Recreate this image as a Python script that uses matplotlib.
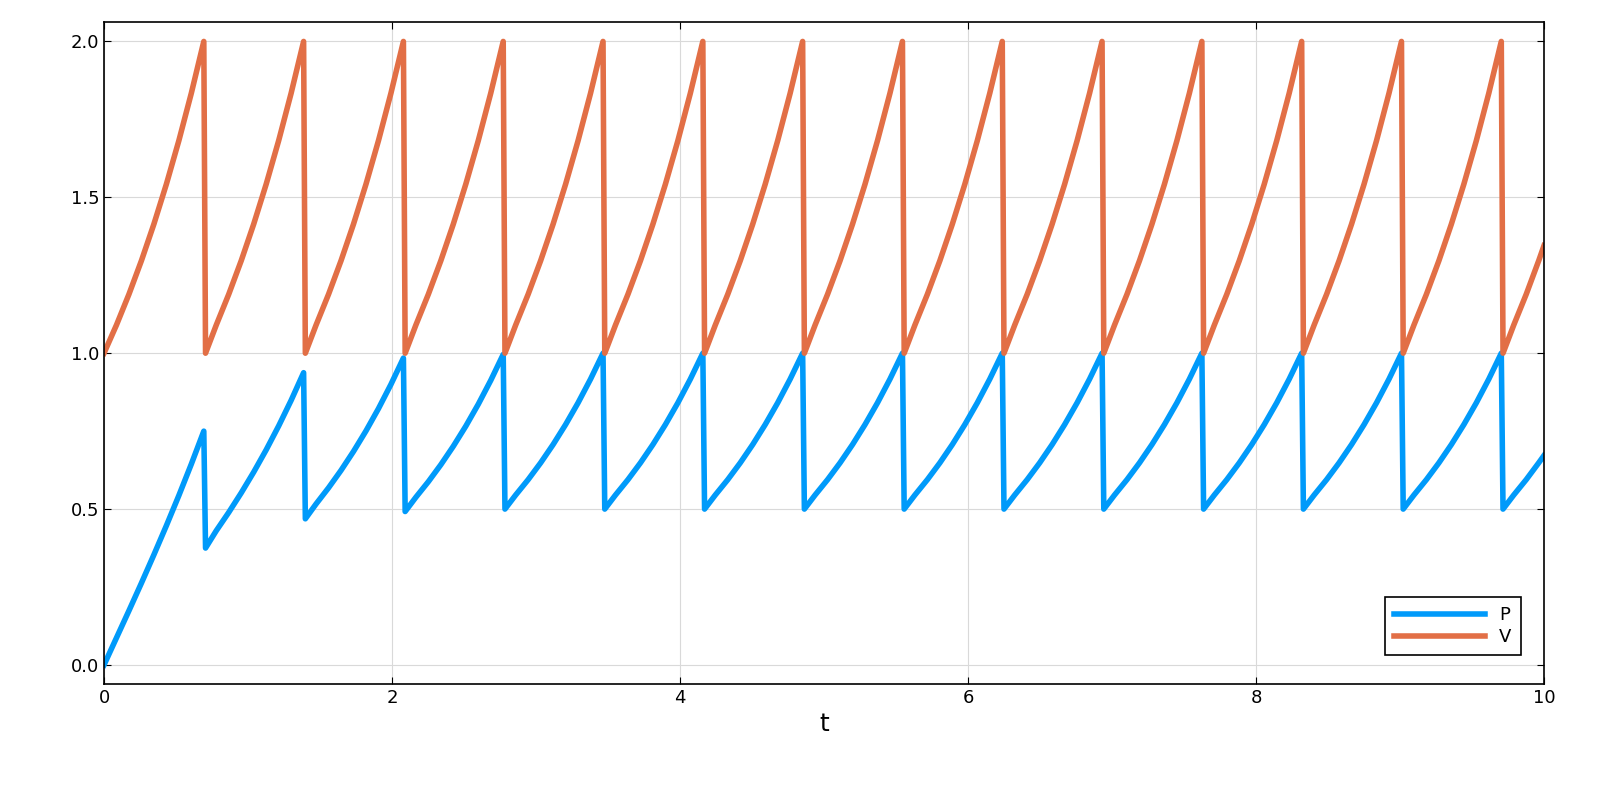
import numpy as np
import matplotlib.pyplot as plt

# values
period = 0.6931
cycle_frac = [0, 0.125, 0.25, 0.375, 0.5, 0.625, 0.75, 0.875, 1.0]
v_cycle = [1.0, 1.0905, 1.1892, 1.2968, 1.4142, 1.5422, 1.6818, 1.834, 2.0]
p_first_cycles = [
    [0.0, 0.0867, 0.1742, 0.2628, 0.3536, 0.4469, 0.5436, 0.6444, 0.75],
    [0.375, 0.4307, 0.4895, 0.552, 0.6187, 0.69, 0.7666, 0.8488, 0.9375],
    [0.4688, 0.5166, 0.5683, 0.6243, 0.685, 0.7508, 0.8223, 0.9, 0.9844],
    [0.4922, 0.5381, 0.588, 0.6424, 0.7016, 0.766, 0.8363, 0.9128, 0.9961],
]
p_steady = [0.5, 0.5453, 0.5946, 0.6484, 0.7071, 0.7711, 0.8409, 0.917, 1.0]
n_full = 14
jump_lag = 0.012  # the drop in the picture is slightly slanted
t_end, v_end, p_end = 10.0, 1.345, 0.672

t, V, P = [], [], []
for k in range(n_full + 1):
    pc = p_first_cycles[k] if k < len(p_first_cycles) else p_steady
    for f, v, p in zip(cycle_frac, v_cycle, pc):
        tt = (k + f) * period
        if k > 0 and f == 0:
            tt += jump_lag
        if tt > t_end:
            break
        t.append(tt); V.append(v); P.append(p)
t.append(t_end); V.append(v_end); P.append(p_end)

fig, ax = plt.subplots(figsize=(16, 8), dpi=100)
ax.plot(t, P, color='#009AFA', lw=4, label='P')
ax.plot(t, V, color='#E26F46', lw=4, label='V')

ax.set_xlim(0, 10)
ax.set_ylim(-0.061, 2.061)
ax.set_xticks([0, 2, 4, 6, 8, 10])
ax.set_yticks([0.0, 0.5, 1.0, 1.5, 2.0])
ax.set_yticklabels(['0.0', '0.5', '1.0', '1.5', '2.0'])
ax.grid(True, color='#d9d9d9', lw=0.8)
ax.tick_params(direction='in', labelsize=13, top=True, right=True, length=5)
ax.set_xlabel('t', fontsize=18)
for s in ax.spines.values():
    s.set_linewidth(1.2)
leg = ax.legend(loc='lower right', fontsize=13, fancybox=False, framealpha=1,
                edgecolor='black', borderpad=0.5, handlelength=5,
                labelspacing=0.2, bbox_to_anchor=(0.99, 0.03))
leg.get_frame().set_linewidth(1.2)

plt.subplots_adjust(left=0.065, right=0.965, top=0.972, bottom=0.145)
plt.savefig('out.png')
